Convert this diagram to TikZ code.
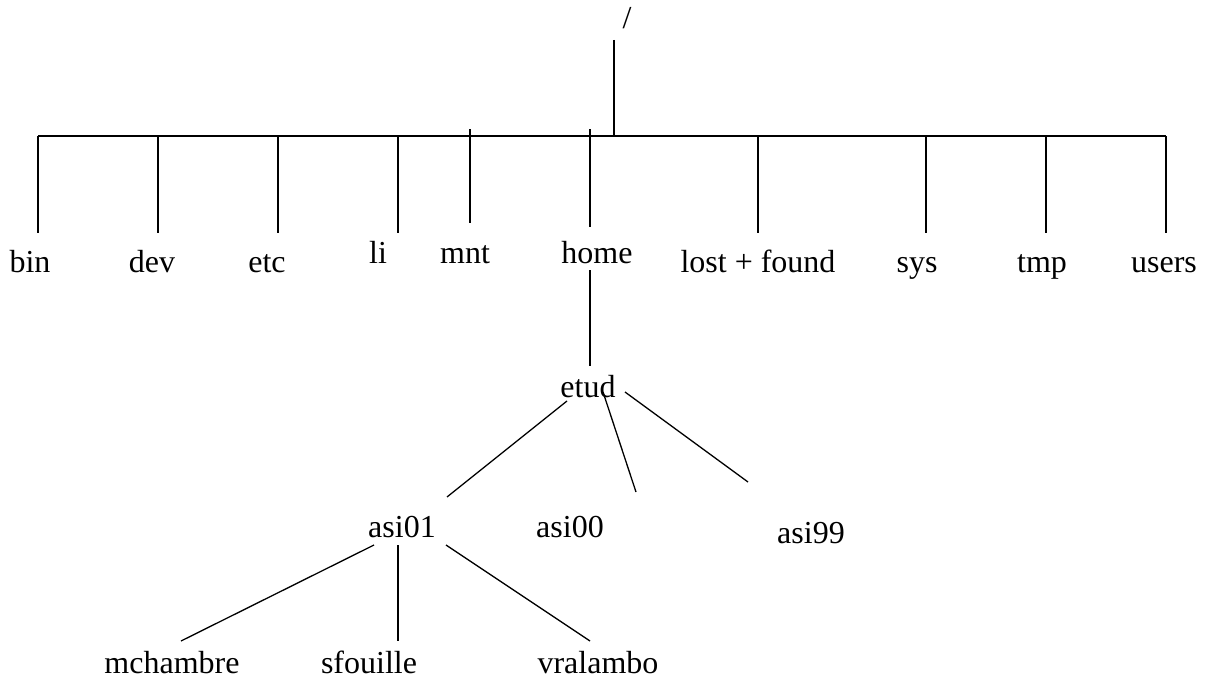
\documentclass[tikz,border=0pt]{standalone}
\usepackage{fontspec}
\setmainfont{Liberation Serif}
\begin{document}
\begin{tikzpicture}[x=1pt,y=-1pt,
  lbl/.style={inner sep=0pt,anchor=base,font=\fontsize{32}{36}\selectfont},
  edge/.style={line width=1.3pt,line cap=butt}]
\useasboundingbox (0,0) rectangle (1214,682);
% labels
\node[lbl] (root) at (627,29) {/};
\node[lbl] (bin) at (30,272) {bin};
\node[lbl] (dev) at (152,272) {dev};
\node[lbl] (etc) at (267,272) {etc};
\node[lbl] (li) at (378,263) {li};
\node[lbl] (mnt) at (465,263) {mnt};
\node[lbl] (home) at (597,263) {home};
\node[lbl] (lf) at (758,272) {lost + found};
\node[lbl] (sys) at (917,272) {sys};
\node[lbl] (tmp) at (1042,272) {tmp};
\node[lbl] (users) at (1164,272) {users};
\node[lbl] (etud) at (588,397) {etud};
\node[lbl] (asi01) at (402,537) {asi01};
\node[lbl] (asi00) at (570,537) {asi00};
\node[lbl] (asi99) at (811,543) {asi99};
\node[lbl] (mch) at (172,673) {mchambre};
\node[lbl] (sfo) at (369,673) {sfouille};
\node[lbl] (vra) at (598,673) {vralambo};
% coordinates
\coordinate (rt) at (614,40);
\coordinate (rb) at (614,136);
\coordinate (hl) at (38,136);
\coordinate (hr) at (1166,136);
\foreach \n/\x in {bin/38,dev/158,etc/278,li/398,lf/758,sys/926,tmp/1046,users/1166}{
  \coordinate (\n t) at (\x,136);
  \coordinate (\n b) at (\x,233);
}
\coordinate (mntt) at (470,129);
\coordinate (mntb) at (470,223);
\coordinate (homet) at (590,129);
\coordinate (homeb) at (590,227);
\coordinate (hd1) at (590,270);
\coordinate (hd2) at (590,366);
\coordinate (e1a) at (567,401);
\coordinate (e1b) at (447,497);
\coordinate (e2a) at (603,392);
\coordinate (e2b) at (636,492);
\coordinate (e3a) at (625,392);
\coordinate (e3b) at (748,482);
\coordinate (a1a) at (374,545);
\coordinate (a1b) at (181,641);
\coordinate (a2a) at (398,545);
\coordinate (a2b) at (398,641);
\coordinate (a3a) at (446,545);
\coordinate (a3b) at (590,641);
% lines
\draw[edge] (rt) -- (rb);
\draw[edge] (hl) -- (hr);
\foreach \n in {bin,dev,etc,li,mnt,home,lf,sys,tmp,users}{
  \draw[edge] (\n t) -- (\n b);
}
\draw[edge] (hd1) -- (hd2);
\draw[edge] (e1a) -- (e1b);
\draw[edge] (e2a) -- (e2b);
\draw[edge] (e3a) -- (e3b);
\draw[edge] (a1a) -- (a1b);
\draw[edge] (a2a) -- (a2b);
\draw[edge] (a3a) -- (a3b);
\end{tikzpicture}
\end{document}
